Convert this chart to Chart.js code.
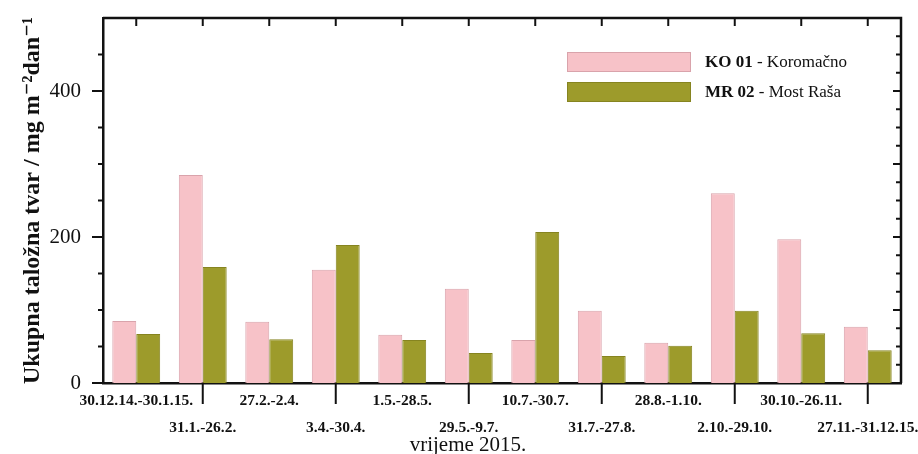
<!DOCTYPE html>
<html>
<head>
<meta charset="utf-8">
<script src="https://cdn.jsdelivr.net/npm/chart.js@4"></script>
<style>
  html, body { margin: 0; padding: 0; background: #fff; }
</style>
</head>
<body>
<canvas id="depositChart" width="918" height="454"></canvas>
<script>
const periods = ['30.12.14.-30.1.15.', '31.1.-26.2.', '27.2.-2.4.', '3.4.-30.4.', '1.5.-28.5.', '29.5.-9.7.',
    '10.7.-30.7.', '31.7.-27.8.', '28.8.-1.10.', '2.10.-29.10.', '30.10.-26.11.', '27.11.-31.12.15.'];
const ko01 = [85, 285, 84, 155, 66, 129, 59, 99, 55, 260, 197, 77];
const mr02 = [67, 159, 60, 189, 59, 41, 207, 37, 51, 99, 68, 45];
const seriesCodes = ['KO 01', 'MR 02'];
const seriesNames = ['Koromačno', 'Most Raša'];
const yTicks = [0, 200, 400];

const serif = '"Liberation Serif", "DejaVu Serif", serif';

// two rows of labels: odd periods on top row, even ones below
const xLabels = periods.map((p, i) => i % 2 === 0 ? [p, ' '] : [' ', p]);

// frame, tick marks, custom legend and x title
const framePlugin = {
    id: 'frame',
    afterDraw(chart) {
        const ctx = chart.ctx;
        const a = chart.chartArea;
        const xs = chart.scales.x;
        const ys = chart.scales.y;
        ctx.save();
        ctx.strokeStyle = '#111';
        ctx.lineWidth = 2.5;
        ctx.lineCap = 'butt';
        ctx.beginPath();
        ctx.moveTo(a.left, a.top);
        ctx.lineTo(a.right, a.top);
        ctx.lineTo(a.right, a.bottom);
        ctx.stroke();

        ctx.lineWidth = 2;
        // left axis ticks, outward
        for (let v = 0; v <= 450; v += 50) {
            const y = ys.getPixelForValue(v);
            const len = yTicks.includes(v) ? 11 : 5;
            ctx.beginPath();
            ctx.moveTo(a.left - len, y);
            ctx.lineTo(a.left, y);
            ctx.stroke();
        }
        // right axis ticks, inward
        for (let v = 25; v <= 475; v += 25) {
            const y = ys.getPixelForValue(v);
            const len = v % 100 === 0 ? 8 : 5;
            ctx.beginPath();
            ctx.moveTo(a.right - len, y);
            ctx.lineTo(a.right, y);
            ctx.stroke();
        }
        // top ticks at every category, inward
        periods.forEach((p, i) => {
            const x = xs.getPixelForTick(i);
            ctx.beginPath();
            ctx.moveTo(x, a.top);
            ctx.lineTo(x, a.top + 8);
            ctx.stroke();
        });
        // bottom ticks at every second category, outward
        periods.forEach((p, i) => {
            if (i % 2 === 0) return;
            const x = xs.getPixelForTick(i);
            ctx.beginPath();
            ctx.moveTo(x, a.bottom);
            ctx.lineTo(x, a.bottom + 21);
            ctx.stroke();
        });

        // legend
        const lx = a.left + 464;
        const ly = a.top + 34;
        chart.data.datasets.forEach((ds, i) => {
            const y = ly + i * 30;
            ctx.fillStyle = ds.backgroundColor;
            ctx.strokeStyle = ds.borderColor;
            ctx.lineWidth = 1;
            ctx.fillRect(lx, y, 124, 20);
            ctx.strokeRect(lx + 0.5, y + 0.5, 123, 19);
            ctx.fillStyle = '#111';
            ctx.textBaseline = 'middle';
            ctx.textAlign = 'left';
            ctx.font = 'bold 17px ' + serif;
            const code = seriesCodes[i];
            ctx.fillText(code, lx + 138, y + 11);
            const w = ctx.measureText(code).width;
            ctx.font = '17px ' + serif;
            ctx.fillText(' - ' + seriesNames[i], lx + 138 + w, y + 11);
        });

        // x axis title
        ctx.font = '21px ' + serif;
        ctx.textAlign = 'center';
        ctx.textBaseline = 'alphabetic';
        ctx.fillStyle = '#111';
        ctx.fillText('vrijeme 2015.', (a.left + a.right) / 2 - 34, 451);
        ctx.restore();
    }
};

new Chart(document.getElementById('depositChart'), {
    type: 'bar',
    data: {
        labels: xLabels,
        datasets: [
            {
                label: seriesCodes[0] + ' - ' + seriesNames[0],
                data: ko01,
                backgroundColor: '#F7C2C8',
                borderColor: '#D9A3AB',
                borderWidth: 1
            },
            {
                label: seriesCodes[1] + ' - ' + seriesNames[1],
                data: mr02,
                backgroundColor: '#9D9B2B',
                borderColor: '#868420',
                borderWidth: 1
            }
        ]
    },
    options: {
        responsive: false,
        animation: false,
        devicePixelRatio: 1,
        layout: { padding: { top: 18, right: 17, left: 0, bottom: 0 } },
        datasets: { bar: { barPercentage: 1.0, categoryPercentage: 0.72 } },
        scales: {
            x: {
                grid: { display: false, drawTicks: false },
                border: { display: true, color: '#111', width: 2.5 },
                ticks: {
                    color: '#111',
                    font: { family: serif, size: 15.5, weight: 'bold', lineHeight: 1.75 },
                    padding: 4,
                    maxRotation: 0,
                    autoSkip: false
                },
                afterFit(scale) {
                    scale.height = 71;
                    scale.paddingLeft = 0;
                    scale.paddingRight = 0;
                }
            },
            y: {
                min: 0,
                max: 500,
                grid: { display: false, drawTicks: false },
                border: { display: true, color: '#111', width: 2.5 },
                ticks: {
                    stepSize: 50,
                    color: '#111',
                    font: { family: serif, size: 21 },
                    padding: 22,
                    callback: v => yTicks.includes(v) ? String(v) : ''
                },
                title: {
                    display: true,
                    text: 'Ukupna taložna tvar / mg m⁻²dan⁻¹',
                    color: '#111',
                    font: { family: serif, size: 24, weight: 'bold' },
                    padding: { top: 18, bottom: 0 }
                },
                afterFit(scale) {
                    scale.width = 103;
                    scale.paddingTop = 0;
                    scale.paddingBottom = 0;
                }
            }
        },
        plugins: {
            legend: { display: false },
            tooltip: { enabled: false }
        }
    },
    plugins: [framePlugin]
});
</script>
</body>
</html>
